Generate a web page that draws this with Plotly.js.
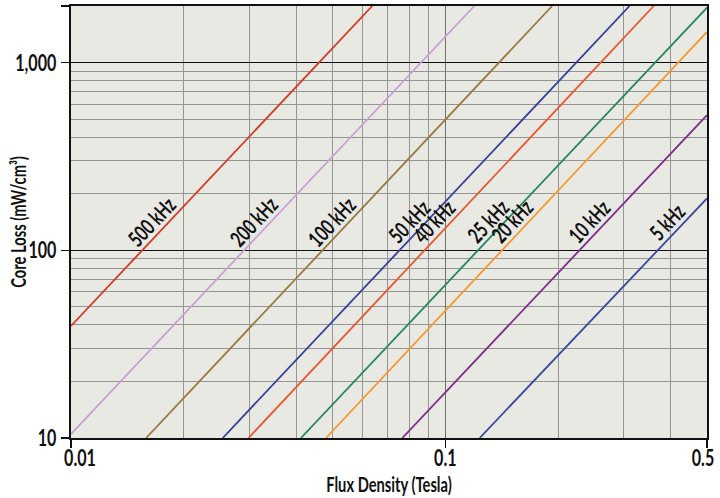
<!DOCTYPE html>
<html>
<head>
<meta charset="utf-8">
<script src="https://cdn.plot.ly/plotly-3.0.1.min.js"></script>
<style>html,body{margin:0;padding:0;background:#fff;}#chart{width:720px;height:498px;}</style>
</head>
<body>
<div id="chart"></div>
<script>
// Series: frequency labels and line endpoints (flux density in Tesla, core loss in mW/cm3)
var freqLabels = ['500 kHz', '200 kHz', '100 kHz', '50 kHz', '40 kHz', '25 kHz', '20 kHz', '10 kHz', '5 kHz'];
var fluxStart  = [0.01,   0.01,   0.01587, 0.02543, 0.02979, 0.04113, 0.04797, 0.07674, 0.1235];
var fluxEnd    = [0.0638, 0.1195, 0.1929,  0.3105,  0.3604,  0.5,     0.5,     0.5,     0.5];
var lossStart  = [39.5,   10.5,   10,      10,      10,      10,      10,      10,      10];
var lossEnd    = [2000,   2000,   2000,    2000,    2000,    1962,    1455,    524,     189];
var lineColors = ['#d23a26', '#c9a0d2', '#98793f', '#383f98', '#e8582e', '#23875a', '#f7982e', '#7c2d8a', '#3a479c'];

// Axis ticks
var xTickVals = [0.01, 0.1, 0.5];
var xTickText = ['0.01', '0.1', '0.5'];
var xMinorVals = [0.02, 0.03, 0.04, 0.05, 0.06, 0.07, 0.08, 0.09, 0.2, 0.3, 0.4];
var yTickVals = [10, 100, 1000, 2000];
var yTickText = ['10', '100', '1,000', ''];
var yMinorVals = [20, 30, 40, 50, 60, 70, 80, 90, 200, 300, 400, 500, 600, 700, 800, 900];

var FONT = 'Lato, "DejaVu Sans Condensed", sans-serif';
var WEIGHT = 'bold';
var SQUEEZE = 0.7; // horizontal condensing of all texts to mimic a condensed face
var EPS = 1e-5;    // keeps the edge ticks (0.5 and 2000) inside the axis range

var traces = freqLabels.map(function (name, i) {
  return {
    type: 'scatter', mode: 'lines', name: name,
    x: [fluxStart[i], fluxEnd[i]],
    y: [lossStart[i], lossEnd[i]],
    line: {color: lineColors[i], width: 1.8},
    showlegend: false, hoverinfo: 'skip'
  };
});

// label anchors: point on each line where loss = labelLoss (log-space interpolation)
var labelLoss = 128;
var annotations = freqLabels.map(function (name, i) {
  var lx0 = Math.log10(fluxStart[i]), lx1 = Math.log10(fluxEnd[i]);
  var ly0 = Math.log10(lossStart[i]), ly1 = Math.log10(lossEnd[i]);
  var ly = Math.log10(labelLoss);
  var lx = lx0 + (ly - ly0) * (lx1 - lx0) / (ly1 - ly0);
  return {
    x: lx, y: ly, xref: 'x', yref: 'y', text: name, showarrow: false,
    textangle: -47, xanchor: 'center', yanchor: 'middle',
    xshift: -10, yshift: 9,
    font: {family: FONT, weight: WEIGHT, size: 22, color: '#111'}
  };
});

annotations.push({
  xref: 'paper', yref: 'paper', x: -0.085, y: 0.5, xanchor: 'center', yanchor: 'middle',
  text: 'Core Loss (mW/cm³)', textangle: -90, showarrow: false,
  font: {family: FONT, weight: WEIGHT, size: 21, color: '#111'}
});

var layout = {
  width: 720, height: 498,
  margin: {l: 71, r: 13, t: 6, b: 60},
  paper_bgcolor: '#ffffff',
  plot_bgcolor: '#e9e9e4',
  showlegend: false,
  xaxis: {
    type: 'log', range: [-2 - EPS, Math.log10(0.5) + EPS], autorange: false,
    tickmode: 'array', tickvals: xTickVals, ticktext: xTickText,
    ticks: 'outside', ticklen: 8, tickwidth: 1.5, tickcolor: '#111',
    ticklabelstandoff: -10, ticklabeloverflow: 'allow',
    showline: true, linecolor: '#111', linewidth: 2, mirror: true,
    showgrid: true, gridcolor: '#707070', gridwidth: 1.6,
    zeroline: false,
    minor: {tickmode: 'array', tickvals: xMinorVals, showgrid: true, gridcolor: '#959595', gridwidth: 1, ticks: ''},
    tickfont: {family: FONT, weight: WEIGHT, size: 23, color: '#111'},
    title: {text: 'Flux Density (Tesla)', font: {family: FONT, weight: WEIGHT, size: 21, color: '#111'}, standoff: 1}
  },
  yaxis: {
    type: 'log', range: [1 - EPS, Math.log10(2000) + EPS], autorange: false,
    tickmode: 'array', tickvals: yTickVals, ticktext: yTickText,
    ticks: 'outside', ticklen: 8, tickwidth: 1.5, tickcolor: '#111',
    ticklabeloverflow: 'allow',
    showline: true, linecolor: '#111', linewidth: 2, mirror: true,
    showgrid: true, gridcolor: '#111', gridwidth: 1.4,
    zeroline: false,
    minor: {tickmode: 'array', tickvals: yMinorVals, showgrid: true, gridcolor: '#959595', gridwidth: 1, ticks: ''},
    tickfont: {family: FONT, weight: WEIGHT, size: 23, color: '#111'}
  },
  annotations: annotations
};

Plotly.newPlot('chart', traces, layout, {displayModeBar: false, staticPlot: true}).then(function (gd) {
  var texts = gd.querySelectorAll('.xtick text, .ytick text, .g-xtitle text, .annotation-text');
  texts.forEach(function (t) {
    var len = t.getComputedTextLength();
    if (len > 0) {
      t.setAttribute('textLength', (len * SQUEEZE).toFixed(2));
      t.setAttribute('lengthAdjust', 'spacingAndGlyphs');
    }
  });
  // edge x tick labels: leftmost sits right of its tick, rightmost nudged inside the page
  var xt = gd.querySelectorAll('.xtick text');
  if (xt.length) {
    xt[0].setAttribute('dx', '9');
    xt[xt.length - 1].setAttribute('dx', '-4');
  }
});
</script>
</body>
</html>
